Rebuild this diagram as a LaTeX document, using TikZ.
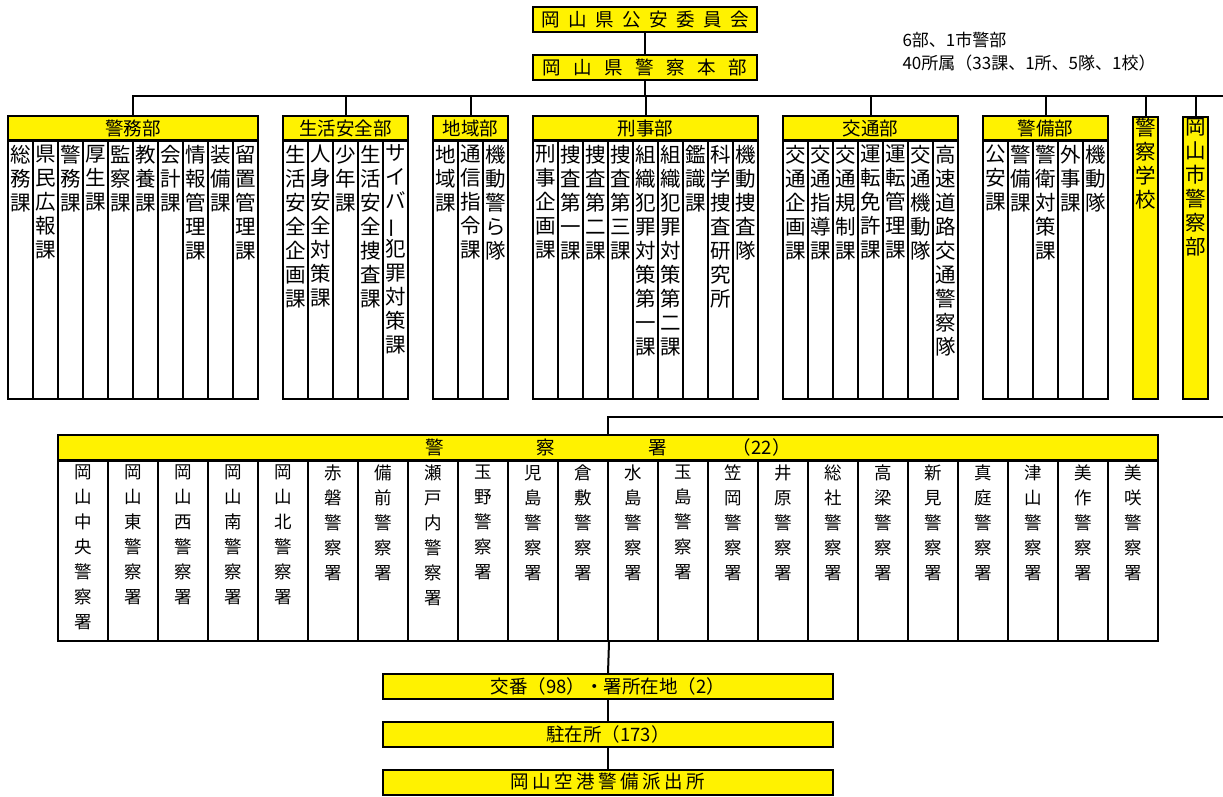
\documentclass[tikz,border=0pt]{standalone}
\usepackage{fontspec}
\setmainfont{Noto Sans CJK JP}

\newcommand\kafont{\fontsize{20.5}{24}\selectfont}
\newcommand\shofont{\fontsize{17.5}{25}\selectfont}
\newcommand\hdfont{\fontsize{18.5}{20}\selectfont}
\newcommand\chouon{\rotatebox[origin=c]{90}{ー}}
% one character per line
\def\tateloop#1{\ifx\relax#1\else#1\par\expandafter\tateloop\fi}
\newcommand\tate[1]{\expandafter\tateloop#1\relax}
\newcommand\kacol[3]{\parbox[t][#1][t]{25pt}{\centering\kafont\vspace*{#2}\tate{#3}}}
\newcommand\shocol[1]{\parbox[t][180pt][t]{50pt}{\centering\shofont\vspace*{4pt}\tate{#1}}}

\tikzset{
  box/.style={draw, fill=yellow, line width=2pt, inner sep=0pt, font=\hdfont},
  col/.style={draw, fill=white, line width=2pt, inner sep=0pt, anchor=north},
  link/.style={line width=2pt},
}

\begin{document}
\begin{tikzpicture}[x=1pt, y=-1pt]
\useasboundingbox (0,0) rectangle (1223,796);

% top
\node[box, minimum width=224, minimum height=25] (koan) at (645,19.5) {\spaceskip=8.5pt 岡 山 県 公 安 委 員 会};
\node[box, minimum width=224, minimum height=25] (hq) at (645,67.5) {\spaceskip=12.5pt 岡 山 県 警 察 本 部};
\node[anchor=west, align=left, font=\fontsize{17}{23}\selectfont] (note) at (899,51.5) {6部、1市警部\\40所属（33課、1所、5隊、1校）};

% departments
\node[box, minimum width=250, minimum height=24] (keimu) at (133,128) {警務部};
\foreach \nm [count=\i from 0] in {総務課,県民広報課,警務課,厚生課,監察課,教養課,会計課,情報管理課,装備課,留置管理課}
  \node[col] (keimu\i) at (20.5+25*\i,140) {\kacol{258pt}{4pt}{\nm}};

\node[box, minimum width=125, minimum height=24] (seikatsu) at (345.5,128) {生活安全部};
\foreach \nm [count=\i from 0] in {生活安全企画課,人身安全対策課,少年課,生活安全捜査課,サイバ\chouon 犯罪対策課}
  \node[col] (seikatsu\i) at (295.5+25*\i,140) {\kacol{258pt}{4pt}{\nm}};

\node[box, minimum width=75, minimum height=24] (chiiki) at (470.5,128) {地域部};
\foreach \nm [count=\i from 0] in {地域課,通信指令課,機動警ら隊}
  \node[col] (chiiki\i) at (445.5+25*\i,140) {\kacol{258pt}{4pt}{\nm}};

\node[box, minimum width=225, minimum height=24] (keiji) at (645.5,128) {刑事部};
\foreach \nm [count=\i from 0] in {刑事企画課,捜査第一課,捜査第二課,捜査第三課,組織犯罪対策第一課,組織犯罪対策第二課,鑑識課,科学捜査研究所,機動捜査隊}
  \node[col] (keiji\i) at (545.5+25*\i,140) {\kacol{258pt}{4pt}{\nm}};

\node[box, minimum width=175, minimum height=24] (kotsu) at (870.5,128) {交通部};
\foreach \nm [count=\i from 0] in {交通企画課,交通指導課,交通規制課,運転免許課,運転管理課,交通機動隊,高速道路交通警察隊}
  \node[col] (kotsu\i) at (795.5+25*\i,140) {\kacol{258pt}{4pt}{\nm}};

\node[box, minimum width=125, minimum height=24] (keibi) at (1045.5,128) {警備部};
\foreach \nm [count=\i from 0] in {公安課,警備課,警衛対策課,外事課,機動隊}
  \node[col] (keibi\i) at (995.5+25*\i,140) {\kacol{258pt}{4pt}{\nm}};

\node[box, anchor=north] (gakko) at (1145.5,116) {\kacol{282pt}{1pt}{警察学校}};
\node[box, anchor=north] (shikei) at (1195.5,116) {\kacol{282pt}{1pt}{岡山市警察部}};

\coordinate (bus) at (1223,96);
\draw[link] (koan) -- (hq);
\draw[link] (hq) -- (hq |- bus);
\draw[link] (keimu.north) |- (bus);
\foreach \d in {seikatsu,chiiki,keiji,kotsu,keibi,gakko,shikei}
  \draw[link] (\d.north) -- (\d.north |- bus);

% police stations
\node[box, minimum width=1100, minimum height=25] (sho) at (608,447.5) {警\hspace{93pt}察\hspace{93pt}署\hspace{66pt}（22）};
\foreach \nm [count=\i from 0] in {岡山中央警察署,岡山東警察署,岡山西警察署,岡山南警察署,岡山北警察署,赤磐警察署,備前警察署,瀬戸内警察署,玉野警察署,児島警察署,倉敷警察署,水島警察署,玉島警察署,笠岡警察署,井原警察署,総社警察署,高梁警察署,新見警察署,真庭警察署,津山警察署,美作警察署,美咲警察署}
  \node[col] (sho\i) at (83+50*\i,460) {\shocol{\nm}};

\coordinate (shobus) at (1223,417);
\draw[link] (sho.north) |- (shobus);

% koban, chuzaisho
\node[box, minimum width=450, minimum height=25] (koban) at (608,686.5) {交番（98）・署所在地（2）};
\node[box, minimum width=450, minimum height=25] (chuzai) at (608,734.5) {駐在所（173）};
\node[box, minimum width=450, minimum height=25] (kuko) at (608,782) {\spaceskip=3.5pt 岡 山 空 港 警 備 派 出 所};

\draw[link] (sho10.south east) -- (koban.north);
\draw[link] (koban) -- (chuzai);
\draw[link] (chuzai) -- (kuko);
\end{tikzpicture}
\end{document}
